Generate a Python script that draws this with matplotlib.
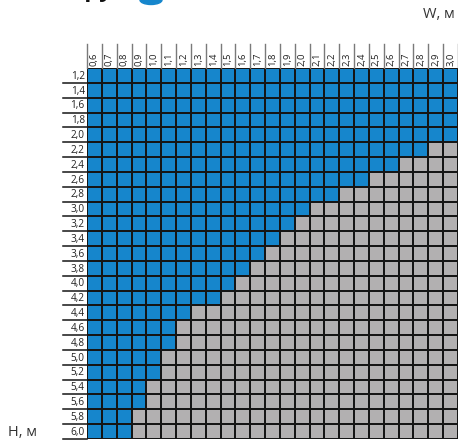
import numpy as np
import matplotlib
matplotlib.use('Agg')
import matplotlib.pyplot as plt
from matplotlib.colors import ListedColormap
from matplotlib.patches import Ellipse

# Ширина (W) и высота (H), м
widths = [0.6, 0.7, 0.8, 0.9, 1.0, 1.1, 1.2, 1.3, 1.4, 1.5, 1.6, 1.7, 1.8,
          1.9, 2.0, 2.1, 2.2, 2.3, 2.4, 2.5, 2.6, 2.7, 2.8, 2.9, 3.0]
heights = [1.2, 1.4, 1.6, 1.8, 2.0, 2.2, 2.4, 2.6, 2.8, 3.0, 3.2, 3.4, 3.6,
           3.8, 4.0, 4.2, 4.4, 4.6, 4.8, 5.0, 5.2, 5.4, 5.6, 5.8, 6.0]
# число доступных (синих) ячеек в каждой строке, слева направо
blue_count = [25, 25, 25, 25, 25, 23, 21, 19, 17, 15, 14, 13, 12,
              11, 10, 9, 7, 6, 6, 5, 5, 4, 4, 3, 3]

BLUE = '#1686CC'
GREY = '#B2B0B1'

nc, nr = len(widths), len(heights)
grid = np.zeros((nr, nc))
for i, n in enumerate(blue_count):
    grid[i, :n] = 1

W, H = 458, 441
fig = plt.figure(figsize=(W / 100, H / 100), dpi=100)
plt.rcParams['font.family'] = ['Open Sans', 'DejaVu Sans']

# область сетки в пикселях
x0, y0, cell = 87, 68, 14.84
ax = fig.add_axes([x0 / W, 1 - (y0 + nr * cell) / H, nc * cell / W, nr * cell / H])
ax.pcolormesh(grid, cmap=ListedColormap([GREY, BLUE]), vmin=0, vmax=1,
              edgecolors='#151515', linewidth=1.3)
ax.set_xlim(0, nc)
ax.set_ylim(nr, 0)
ax.axis('off')

hdr = 24 / cell
# шапка со значениями ширины
for j, w in enumerate(widths):
    ax.text(j + 0.5, -0.12, f'{w:.1f}'.replace('.', ','), rotation=90,
            ha='center', va='bottom', fontsize=6.8, color='#222222', clip_on=False)
for j in range(nc + 1):
    ax.plot([j, j], [0, -hdr], color='#7a7a7a', lw=1.0, clip_on=False)

# подписи высоты слева
for i, h in enumerate(heights):
    ax.text(-0.15, i + 0.55, f'{h:.1f}'.replace('.', ','), ha='right', va='center',
            fontsize=7.2, color='#222222', clip_on=False)
    ax.plot([-hdr, 0], [i + 1, i + 1], color='#151515', lw=1.1, clip_on=False)

fig.text(455 / W, 1 - 15 / H, 'W, м', ha='right', va='center',
         fontsize=10.5, color='#333333')
fig.text(8 / W, 1 - 433 / H, 'Н, м', ha='left', va='center',
         fontsize=10.5, color='#333333')

# обрезанный заголовок сверху
fig.text(72 / W, 1 + 4 / H, 'Группа', ha='left', va='baseline',
         fontsize=17, fontweight='bold', color='#111111')
fig.patches.append(Ellipse((151 / W, 1 - 0 / H), 22 / W, 9 / H,
                           transform=fig.transFigure, color=BLUE))

fig.savefig('out.png', dpi=100)
